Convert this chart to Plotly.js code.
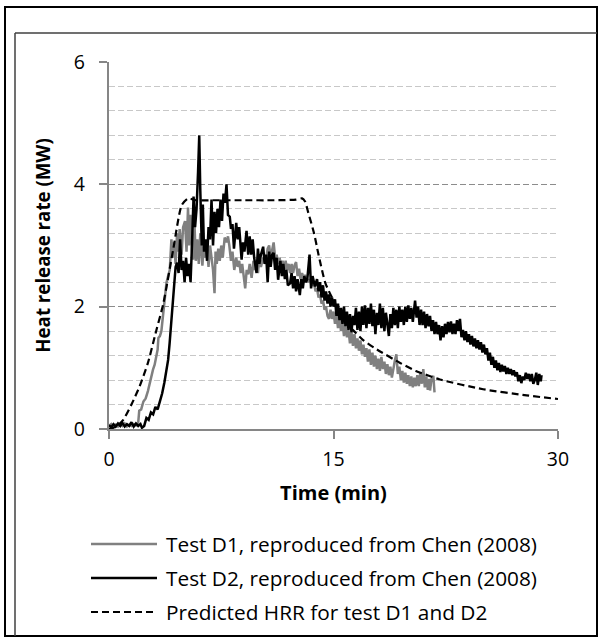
<!DOCTYPE html>
<html>
<head>
<meta charset="utf-8">
<script src="https://cdn.plot.ly/plotly-3.0.1.min.js"></script>
<style>
html,body{margin:0;padding:0;background:#fff;}
#chart{width:602px;height:641px;}
</style>
</head>
<body>
<div id="chart"></div>
<script>
// ---- Data ----
var seriesNames = ["Test D1, reproduced from Chen (2008)", "Test D2, reproduced from Chen (2008)", "Predicted HRR for test D1 and D2"];

var d1Time = [0,0.15,0.3,0.45,0.6,0.75,0.9,1.05,1.2,1.35,1.5,1.65,1.8,1.95,2.02,2.15,2.3,2.45,2.6,2.72,2.85,2.94,3.05,3.17,3.25,3.3,3.4,3.5,3.6,3.72,3.84,3.95,4.06,4.17,4.25,4.35,4.45,4.55,4.65,4.72,4.85,4.95,5.08,5.18,5.28,5.35,5.45,5.55,5.62,5.72,5.8,5.9,6.0,6.1,6.24,6.35,6.45,6.55,6.65,6.75,6.85,6.95,7.05,7.12,7.2,7.3,7.4,7.5,7.6,7.73,7.85,7.95,8.04,8.15,8.25,8.37,8.5,8.6,8.7,8.8,8.9,9.0,9.1,9.2,9.3,9.4,9.53,9.65,9.75,9.85,9.95,10.05,10.15,10.3,10.45,10.6,10.7,10.8,10.9,11.0,11.1,11.2,11.3,11.4,11.5,11.6,11.7,11.8,11.9,12.0,12.1,12.2,12.3,12.4,12.5,12.6,12.7,12.8,12.9,13.0,13.1,13.25,13.4,13.55,13.7,13.8,13.9,14.0,14.1,14.2,14.3,14.4,14.5,14.6,14.7,14.8,14.9,15.0,15.1,15.2,15.3,15.4,15.5,15.6,15.7,15.8,15.9,16.0,16.1,16.2,16.3,16.4,16.5,16.6,16.7,16.8,16.9,17.0,17.1,17.2,17.3,17.4,17.5,17.6,17.7,17.8,17.9,18.0,18.1,18.2,18.3,18.4,18.5,18.6,18.7,18.8,18.9,19.0,19.1,19.2,19.3,19.4,19.5,19.6,19.7,19.8,19.9,20.0,20.1,20.2,20.3,20.4,20.5,20.6,20.7,20.8,20.9,21.0,21.1,21.2,21.3,21.4,21.45,21.55,21.67,21.75];
var d1Hrr = [0.05,0.08,0.03,0.07,0.04,0.08,0.05,0.09,0.04,0.07,0.05,0.08,0.06,0.1,0.3,0.32,0.45,0.5,0.62,0.75,0.85,0.97,1.05,1.19,1.3,1.49,1.52,1.6,1.84,2.2,2.39,2.5,2.6,3.1,2.8,3.05,2.7,3.2,2.9,3.27,2.85,3.3,3.4,2.9,3.62,3.0,3.5,2.9,2.77,3.3,2.75,3.1,2.7,3.2,2.67,3.05,2.8,2.95,2.65,3.0,2.8,2.6,2.22,2.9,2.7,2.95,2.75,3.0,2.8,3.13,3.05,3.15,3.0,2.75,2.9,2.6,2.8,2.65,2.75,2.55,2.7,2.5,2.3,2.6,2.53,2.7,2.47,2.75,2.6,2.7,2.55,2.8,2.65,2.8,2.7,2.95,3.0,2.8,2.9,3.05,2.8,2.85,2.7,2.8,2.65,2.75,2.6,2.75,2.6,2.7,2.55,2.7,2.55,2.68,2.73,2.5,2.62,2.45,2.55,2.45,2.52,2.4,2.45,2.35,2.38,2.25,2.3,2.15,2.2,2.05,2.1,1.95,2.0,1.85,1.8,1.95,1.8,1.92,1.72,1.88,1.65,1.82,1.6,1.75,1.52,1.7,1.5,1.62,1.4,1.58,1.36,1.55,1.32,1.48,1.28,1.45,1.22,1.38,1.18,1.32,1.1,1.3,1.05,1.25,1.02,1.2,0.98,1.15,0.95,1.18,0.98,1.1,0.9,1.06,0.88,1.02,0.84,1.0,1.12,1.22,0.9,1.02,0.8,0.95,0.76,0.92,0.74,0.88,0.7,0.86,0.68,0.84,0.7,0.88,0.7,0.92,0.74,0.98,0.68,0.86,0.64,0.82,0.63,0.82,0.87,0.6];

var d2Time = [0,0.15,0.3,0.45,0.6,0.75,0.9,1.05,1.2,1.35,1.5,1.65,1.8,1.95,2.1,2.2,2.35,2.5,2.65,2.8,2.95,3.1,3.25,3.4,3.55,3.7,3.85,3.95,4.05,4.15,4.25,4.35,4.45,4.55,4.65,4.75,4.85,4.95,5.05,5.15,5.25,5.35,5.45,5.55,5.65,5.75,5.85,5.95,6.03,6.1,6.2,6.27,6.35,6.45,6.55,6.65,6.75,6.85,6.95,7.05,7.15,7.25,7.35,7.45,7.55,7.65,7.75,7.85,7.95,8.07,8.15,8.25,8.35,8.5,8.6,8.7,8.86,8.95,9.05,9.19,9.3,9.4,9.5,9.6,9.7,9.86,9.95,10.05,10.15,10.3,10.4,10.5,10.6,10.7,10.8,10.9,11.0,11.1,11.2,11.3,11.45,11.55,11.65,11.75,11.85,11.95,12.1,12.2,12.3,12.4,12.5,12.6,12.75,12.85,12.95,13.05,13.15,13.25,13.4,13.5,13.6,13.76,13.9,14.0,14.1,14.2,14.3,14.4,14.5,14.6,14.7,14.8,14.9,15.0,15.1,15.2,15.3,15.4,15.5,15.6,15.7,15.8,15.9,16.0,16.1,16.2,16.3,16.4,16.5,16.6,16.7,16.8,16.9,17.0,17.1,17.2,17.3,17.4,17.5,17.6,17.7,17.8,17.9,18.0,18.1,18.2,18.3,18.4,18.5,18.6,18.7,18.8,18.9,19.0,19.1,19.2,19.3,19.4,19.5,19.6,19.7,19.8,19.9,20.0,20.1,20.2,20.3,20.45,20.55,20.65,20.75,20.85,20.95,21.05,21.15,21.25,21.35,21.45,21.55,21.65,21.75,21.85,21.95,22.05,22.15,22.25,22.35,22.45,22.55,22.65,22.75,22.85,22.95,23.05,23.15,23.25,23.35,23.45,23.55,23.65,23.75,23.85,23.95,24.05,24.15,24.25,24.35,24.45,24.55,24.65,24.75,24.85,24.95,25.05,25.15,25.25,25.35,25.45,25.55,25.65,25.75,25.85,25.95,26.05,26.15,26.25,26.35,26.45,26.55,26.65,26.75,26.85,26.95,27.05,27.15,27.25,27.35,27.45,27.55,27.65,27.75,27.85,27.95,28.05,28.15,28.25,28.35,28.45,28.55,28.65,28.75,28.85,28.9];
var d2Hrr = [0.06,0.03,0.08,0.04,0.09,0.05,0.1,0.04,0.08,0.05,0.11,0.04,0.09,0.05,0.08,0.02,0.05,0.18,0.15,0.27,0.24,0.36,0.32,0.45,0.58,0.76,0.95,1.13,1.4,1.7,2.0,2.4,2.65,2.72,2.55,3.1,2.6,2.75,2.4,2.8,2.5,2.7,2.4,3.05,3.8,3.3,3.6,4.2,4.8,3.9,3.0,3.67,2.9,3.1,2.75,3.3,3.1,3.75,3.0,3.55,3.2,3.6,3.3,3.75,3.4,3.85,3.7,4.0,3.5,3.47,3.27,3.35,2.95,3.37,3.1,3.3,2.77,3.05,2.9,3.24,2.85,3.15,2.85,3.1,2.8,2.55,2.95,2.7,2.85,2.98,2.7,2.85,2.4,2.9,2.65,2.85,2.88,2.6,2.8,2.44,2.75,2.5,2.7,2.45,2.6,2.35,2.38,2.55,2.3,2.5,2.25,2.45,2.19,2.45,2.3,2.5,2.4,2.45,2.85,2.3,2.5,2.33,2.45,2.25,2.4,2.15,2.35,2.1,2.25,2.05,2.2,2.0,2.15,2.0,2.12,1.85,2.05,1.78,1.98,1.72,2.0,1.68,1.92,1.62,1.88,1.58,1.85,1.7,1.98,1.62,1.92,1.6,2.0,1.7,2.02,1.65,1.98,1.72,2.05,1.68,1.95,1.55,1.9,1.7,2.05,1.65,1.98,1.6,1.9,1.72,1.52,1.88,1.65,1.98,1.7,1.95,1.65,2.0,1.75,1.95,1.7,2.0,1.75,2.02,1.8,1.98,1.75,2.1,1.82,2.0,1.7,1.95,1.7,1.92,1.65,1.88,1.68,1.85,1.6,1.78,1.55,1.75,1.55,1.7,1.45,1.68,1.5,1.72,1.55,1.75,1.58,1.76,1.55,1.72,1.55,1.78,1.6,1.8,1.5,1.62,1.45,1.6,1.42,1.55,1.38,1.52,1.35,1.48,1.32,1.45,1.3,1.42,1.25,1.38,1.22,1.32,1.12,1.25,1.05,1.18,1.0,1.12,0.96,1.08,0.93,1.05,0.94,1.03,0.9,1.0,0.9,0.98,0.88,0.96,0.86,0.93,0.78,0.88,0.75,0.86,0.8,0.92,0.82,0.9,0.78,0.9,0.74,0.8,0.92,0.72,0.9,0.78,0.88];

var predTime = [0,0.5,0.95,1.5,2.05,2.6,3.17,3.63,4.3,4.86,5.3,5.8,7,9,11,12.5,12.9,13.1,13.3,13.7,14.0,14.45,15.0,15.7,16.3,17.0,17.9,19.45,20.5,22.1,25.0,27.9,30.0];
var predHrr  = [0,0.04,0.15,0.40,0.70,1.08,1.62,2.05,2.95,3.66,3.77,3.74,3.74,3.74,3.74,3.75,3.77,3.72,3.55,3.2,2.85,2.39,2.1,1.79,1.62,1.45,1.30,1.08,0.95,0.81,0.65,0.55,0.49];

var xTicks = [0, 15, 30];
var yTicks = [0, 2, 4, 6];

// ---- Layout helpers (pixel -> paper) ----
var W = 602, H = 641, L = 109, R = 558, T = 62, B = 429;
function px(x){ return (x - L) / (R - L); }
function py(y){ return (B - y) / (B - T); }

var FONT = "Open Sans, Liberation Sans, sans-serif";
var PAD = "\u00a0\u00a0";

var traces = [
  {x: d1Time, y: d1Hrr, name: seriesNames[0], type: "scatter", mode: "lines",
   line: {color: "#808080", width: 2.5}},
  {x: d2Time, y: d2Hrr, name: seriesNames[1], type: "scatter", mode: "lines",
   line: {color: "#000000", width: 2.5}},
  {x: predTime, y: predHrr, name: seriesNames[2], type: "scatter", mode: "lines",
   line: {color: "#000000", width: 2.2, dash: "7px,4px", shape: "spline", smoothing: 0.6}}
];

var legendRows = [544, 578, 612];
var legendStyles = [
  {color: "#808080", width: 2.5, dash: "solid"},
  {color: "#000000", width: 2.5, dash: "solid"},
  {color: "#000000", width: 2.2, dash: "7px,4px"}
];

var shapes = [
  // outer frame
  {type: "rect", xref: "paper", yref: "paper", x0: px(5), x1: px(597), y0: py(636), y1: py(7),
   line: {color: "#000", width: 2}, fillcolor: "rgba(0,0,0,0)", layer: "below"},
  // inner chart-area border (left and top edges)
  {type: "line", xref: "paper", yref: "paper", x0: px(15), x1: px(15), y0: py(636), y1: py(33),
   line: {color: "#404040", width: 1.5}},
  {type: "line", xref: "paper", yref: "paper", x0: px(15), x1: px(597), y0: py(33), y1: py(33),
   line: {color: "#404040", width: 1.5}}
];
var annotations = [];
legendRows.forEach(function(yy, i){
  shapes.push({type: "line", xref: "paper", yref: "paper", x0: px(91), x1: px(157), y0: py(yy), y1: py(yy),
    line: legendStyles[i]});
  annotations.push({xref: "paper", yref: "paper", x: px(164), y: py(yy), xanchor: "left", yanchor: "middle",
    text: seriesNames[i], showarrow: false, font: {family: FONT, size: 20.8, color: "#000"}});
});

var layout = {
  width: W, height: H,
  margin: {l: L, r: W - R, t: T, b: H - B, pad: 0},
  paper_bgcolor: "#fff", plot_bgcolor: "#fff",
  showlegend: false,
  font: {family: FONT, size: 19.5, color: "#000"},
  xaxis: {
    range: [0, 30], tickvals: xTicks, ticktext: xTicks.map(String),
    showgrid: false, zeroline: false,
    showline: true, linecolor: "#868686", linewidth: 2,
    ticks: "outside", ticklen: 8, tickwidth: 2, tickcolor: "#868686",
    ticklabelstandoff: 4,
    tickfont: {family: FONT, size: 19.5, color: "#000"},
    title: {text: "<b>Time (min)</b>", font: {family: FONT, size: 20, color: "#000"}, standoff: 15}
  },
  yaxis: {
    range: [0, 6], tickvals: yTicks, ticktext: yTicks.map(function(v){ return String(v) + PAD; }),
    showgrid: true, gridcolor: "#8c8c8c", gridwidth: 1, griddash: "6px,3px",
    zeroline: false,
    showline: true, linecolor: "#868686", linewidth: 2,
    ticks: "outside", ticklen: 8, tickwidth: 2, tickcolor: "#868686",
    tickfont: {family: FONT, size: 19.5, color: "#000"},
    minor: {dtick: 0.4, tick0: 0, showgrid: true, gridcolor: "#c8c8c8", gridwidth: 1, griddash: "6px,3px", ticks: ""},
    title: {text: "<b>Heat release rate (MW)</b>", font: {family: FONT, size: 18.7, color: "#000"}, standoff: 18}
  },
  shapes: shapes,
  annotations: annotations
};

Plotly.newPlot("chart", traces, layout, {displayModeBar: false, staticPlot: true});
</script>
</body>
</html>
